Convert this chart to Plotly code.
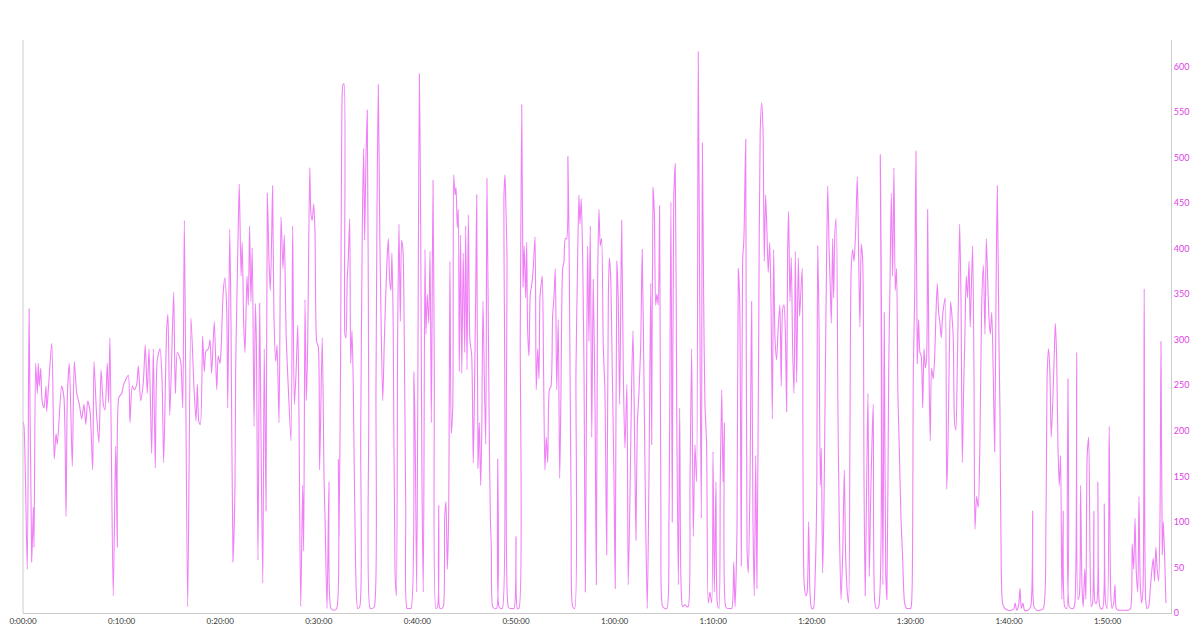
import plotly.graph_objects as go

# (elapsed seconds, power watts)
samples_part1 = [(0,210),(6,205),(26,48),(37,334),(53,56),(63,116),(67,72),(77,274),(87,241),(93,274),(99,249),(108,269),(116,233),(128,225),(140,249),(144,221),(154,245),(175,296),(190,169),(201,197),(209,185),(235,249),(249,237),(262,106),(270,239),(282,274),(300,161),(312,276),(327,241),(343,229),(357,213),(371,229),(382,207),(394,233),(408,221),(424,157),(432,276),(448,217),(462,187),(475,267),(489,229),(499,223),(513,274),(521,231),(529,302),(549,19),(564,183),(574,72),(584,237),(601,241),(610,249),(627,257),(641,261),(651,209),(665,249),(677,245),(692,251),(702,271),(716,233),(732,253),(744,294),(756,241),(767,290),(783,175),(793,290),(805,159),(817,278),(834,290),(846,257),(856,165),(874,310),(882,328),(893,217),(905,282),(917,352),(927,241),(939,286),(951,282),(961,274),(972,225),(982,431),(1002,7),(1022,324),(1041,245),(1053,211),(1061,251),(1071,209),(1079,207),(1093,304),(1103,265),(1114,288),(1128,290),(1138,300),(1148,263),(1164,320)]

samples_part2 = [(1179,245),(1188,282),(1199,274),(1205,288),(1219,354),(1229,368),(1240,330),(1246,225),(1258,421),(1266,314),(1278,56),(1290,140),(1294,265),(1302,350),(1310,423),(1316,471),(1327,370),(1334,407),(1343,318),(1351,286),(1363,370),(1371,338),(1379,425),(1387,342),(1395,401),(1406,205),(1414,340),(1420,298),(1430,58),(1440,340),(1448,201),(1459,33),(1468,290),(1479,112),(1487,461),(1497,386),(1505,354),(1513,411),(1519,469),(1527,326),(1538,276),(1546,294),(1558,209),(1570,435),(1582,378),(1590,415),(1602,302),(1614,249),(1631,189),(1641,425),(1651,229),(1661,261),(1672,316),(1679,225),(1690,7),(1702,140),(1708,68),(1716,344),(1724,233),(1732,290),(1745,489),(1752,439),(1760,431),(1769,449),(1777,417),(1787,298),(1797,292),(1805,157),(1821,302),(1832,148),(1838,104),(1850,5),(1862,144),(1874,5),(1892,3),(1909,5),(1919,169),(1923,84),(1933,286),(1939,516),(1947,580),(1953,581),(1959,306),(1965,302),(1973,366),(1979,386),(1988,433),(1994,274),(2002,310),(2010,249),(2024,52),(2037,5),(2049,7),(2055,195),(2065,427),(2073,510),(2079,409),(2087,499),(2095,552),(2104,225),(2113,5),(2126,5),(2138,7),(2148,245),(2154,431),(2162,580),(2171,419),(2177,346),(2189,233),(2199,300),(2207,346),(2215,386),(2223,411),(2231,366),(2239,354),(2245,395),(2253,314),(2264,44),(2272,19),(2280,306),(2288,427),(2296,320),(2304,409),(2312,399),(2320,306),(2329,116),(2337,5),(2349,5),(2361,5)]

samples_part3 = [(2379,265),(2387,185),(2396,23),(2412,592),(2420,427),(2428,144),(2436,23),(2446,399),(2452,306),(2460,350),(2469,318),(2477,397),(2485,209),(2495,475),(2503,265),(2513,5),(2523,7),(2530,118),(2537,5),(2548,5),(2558,7),(2566,104),(2574,122),(2582,48),(2590,104),(2598,386),(2606,197),(2615,225),(2621,481),(2629,459),(2635,467),(2643,423),(2649,443),(2655,265),(2663,415),(2670,263),(2679,395),(2688,286),(2694,425),(2702,267),(2710,437),(2720,298),(2730,284),(2740,165),(2746,225),(2755,354),(2761,459),(2769,159),(2777,209),(2785,140),(2791,189),(2799,342),(2807,261),(2816,185),(2823,477),(2836,225),(2844,104),(2850,72),(2858,7),(2870,5),(2882,5),(2889,169),(2896,7),(2907,5),(2917,5),(2927,459),(2933,481),(2939,443),(2945,395),(2953,7),(2963,5),(2974,5),(2988,5),(3000,84),(3008,5),(3018,5),(3026,306),(3035,558),(3043,358),(3050,403),(3059,346),(3065,407),(3071,310),(3079,282),(3087,350),(3097,362),(3105,378),(3116,413),(3123,245),(3132,290),(3140,257),(3146,346),(3154,362),(3160,370),(3168,265),(3176,157),(3184,193),(3193,165),(3203,245),(3213,249),(3223,326),(3231,346),(3239,378),(3248,245),(3257,322),(3266,148),(3274,245),(3284,378),(3292,386),(3300,411),(3308,411),(3316,501),(3324,386),(3336,104),(3345,7),(3357,5),(3365,265),(3375,386),(3383,459),(3389,427),(3397,455),(3406,386),(3414,265),(3422,23),(3430,265),(3436,403),(3444,298),(3452,425),(3461,193),(3470,366),(3481,225),(3489,31),(3497,366),(3505,443),(3513,403),(3521,411),(3531,294),(3541,245),(3552,64),(3562,346),(3568,390)]

samples_part4 = [(3576,370),(3586,265),(3596,152),(3604,27),(3614,386),(3622,346),(3631,229),(3643,431),(3653,265),(3663,181),(3675,251),(3683,31),(3694,132),(3704,253),(3712,310),(3722,189),(3730,80),(3738,205),(3748,241),(3759,294),(3768,399),(3779,253),(3789,104),(3799,5),(3809,144),(3820,362),(3826,185),(3834,467),(3842,439),(3850,338),(3858,350),(3866,338),(3874,447),(3882,104),(3892,7),(3907,5),(3919,5),(3931,104),(3943,451),(3951,100),(3960,455),(3969,493),(3978,225),(3988,31),(3996,225),(4004,35),(4014,7),(4028,9),(4039,7),(4048,7),(4059,144),(4069,290),(4079,84),(4089,185),(4099,144),(4109,616),(4118,346),(4128,104),(4134,516),(4142,346),(4150,229),(4160,185),(4170,11),(4180,23),(4191,11),(4199,177),(4207,23),(4217,144),(4225,11),(4235,5),(4243,144),(4252,245),(4260,144),(4268,209),(4276,7),(4288,5),(4300,5),(4313,5),(4325,56),(4333,7),(4345,92),(4353,378),(4361,346),(4371,52),(4379,386),(4387,411),(4398,520),(4406,72),(4414,44),(4424,144),(4434,342),(4442,104),(4450,19),(4459,173),(4466,27),(4477,306),(4486,528),(4495,560),(4503,532),(4511,386),(4519,459),(4527,419),(4535,374),(4544,407),(4552,338),(4560,213),(4568,399),(4576,302),(4586,278),(4596,314),(4606,338),(4614,249),(4623,334),(4631,338),(4639,310),(4647,221),(4653,395),(4659,441),(4667,342),(4675,390),(4684,286),(4692,241),(4700,397),(4708,253),(4718,390),(4726,326),(4734,354),(4742,378)]

samples_part5 = [(4754,31),(4765,19),(4772,23),(4781,100),(4789,23),(4799,5),(4809,5),(4821,44),(4830,128),(4836,403),(4844,318),(4852,140),(4858,181),(4866,44),(4874,116),(4882,253),(4890,386),(4897,469),(4905,403),(4912,362),(4919,318),(4927,411),(4933,346),(4941,419),(4949,433),(4959,225),(4967,104),(4978,15),(4988,64),(4998,157),(5006,64),(5016,23),(5024,11),(5032,185),(5040,378),(5049,399),(5057,386),(5067,419),(5077,479),(5085,395),(5093,314),(5101,405),(5110,386),(5118,144),(5125,19),(5134,144),(5142,241),(5150,40),(5158,124),(5166,185),(5174,229),(5184,11),(5195,5),(5207,7),(5217,503),(5225,306),(5233,31),(5241,330),(5250,44),(5257,15),(5268,265),(5276,362),(5284,461),(5292,370),(5300,489),(5308,354),(5316,378),(5324,241),(5332,185),(5343,104),(5353,60),(5365,11),(5377,5),(5389,5),(5402,5),(5410,23),(5418,265),(5426,346),(5434,507),(5442,274),(5450,322),(5458,286),(5466,282),(5475,225),(5483,290),(5491,269),(5499,282),(5505,443),(5513,274),(5521,189),(5529,269),(5539,257),(5548,282),(5556,330),(5564,362),(5572,330),(5580,318),(5588,302),(5596,326),(5604,338),(5612,346),(5621,136),(5629,185),(5637,286),(5645,342),(5653,326),(5661,302),(5669,209),(5677,201),(5685,265),(5694,366),(5700,427),(5708,346),(5716,165),(5724,245),(5732,306),(5740,370),(5748,346),(5757,386),(5764,314),(5773,370),(5779,403),(5787,265),(5793,92),(5803,128),(5813,116),(5823,185),(5834,338),(5844,382),(5854,306),(5862,411),(5870,370),(5878,326),(5886,306),(5895,330),(5904,265),(5913,177),(5921,346),(5929,469),(5939,298)]

samples_part6 = [(5945,225),(5953,48),(5961,11),(5974,5),(5994,3),(6014,3),(6030,5),(6038,11),(6047,3),(6059,9),(6067,27),(6075,5),(6085,11),(6095,3),(6115,3),(6132,7),(6144,112),(6152,7),(6168,3),(6188,3),(6209,5),(6225,104),(6233,265),(6241,290),(6249,265),(6257,193),(6266,229),(6274,274),(6282,318),(6290,282),(6298,185),(6306,140),(6314,173),(6322,15),(6330,112),(6339,7),(6351,5),(6359,257),(6367,7),(6379,5),(6391,5),(6401,11),(6412,286),(6420,15),(6428,19),(6436,140),(6444,31),(6452,7),(6461,48),(6468,15),(6476,173),(6485,193),(6493,68),(6501,7),(6509,11),(6517,112),(6525,11),(6533,11),(6541,144),(6549,11),(6558,5),(6570,5),(6580,120),(6588,11),(6598,5),(6610,205),(6619,23),(6627,5),(6637,11),(6645,31),(6653,5),(6665,3),(6686,3),(6706,3),(6726,3),(6740,5),(6750,76),(6759,48),(6767,104),(6775,44),(6784,23),(6791,128),(6799,31),(6807,11),(6815,23),(6823,356),(6832,15),(6840,5),(6850,7),(6860,27),(6870,48),(6878,60),(6886,35),(6894,72),(6902,48),(6911,35),(6919,104),(6925,298),(6933,64),(6939,100),(6947,64),(6955,11)]

ride_duration_s = 6986
tick_seconds = [0, 600, 1200, 1800, 2400, 3000, 3600, 4200, 4800, 5400, 6000, 6600]
tick_labels = ["0:00:00", "0:10:00", "0:20:00", "0:30:00", "0:40:00", "0:50:00",
               "1:00:00", "1:10:00", "1:20:00", "1:30:00", "1:40:00", "1:50:00"]
power_ticks = [0, 50, 100, 150, 200, 250, 300, 350, 400, 450, 500, 550, 600]

samples = sorted(samples_part1 + samples_part2 + samples_part3 +
                 samples_part4 + samples_part5 + samples_part6)
elapsed = [s[0] for s in samples]
power = [s[1] for s in samples]

fig = go.Figure()
fig.add_trace(go.Scatter(
    x=elapsed, y=power, mode="lines",
    line=dict(color="rgba(230, 50, 240, 0.62)", width=1.1, shape="spline", smoothing=0.7),
    hoverinfo="skip", showlegend=False,
))

fig.update_layout(
    width=1184, height=621,
    margin=dict(l=15, r=21, t=32, b=16),
    paper_bgcolor="white", plot_bgcolor="white",
    font=dict(family="Lato, 'Open Sans', sans-serif", size=8, color="#333333"),
    showlegend=False,
)
fig.update_xaxes(
    range=[0, ride_duration_s], tickmode="array", tickvals=tick_seconds, ticktext=tick_labels,
    showgrid=False, zeroline=False, showline=True, linecolor="#cccccc", linewidth=1,
    ticks="", tickfont=dict(size=8, color="#333333"), automargin=False,
)
fig.update_yaxes(
    range=[0, 629], side="right", tickmode="array", tickvals=power_ticks,
    showgrid=False, zeroline=False, showline=True, linecolor="#cccccc", linewidth=1,
    ticks="", tickfont=dict(size=9, color="#e040e8"), automargin=False,
)
# left border line of plot area
fig.add_shape(type="line", xref="paper", yref="paper", x0=0, x1=0, y0=0, y1=1,
              line=dict(color="#cccccc", width=1))

fig.write_html("out.html")
